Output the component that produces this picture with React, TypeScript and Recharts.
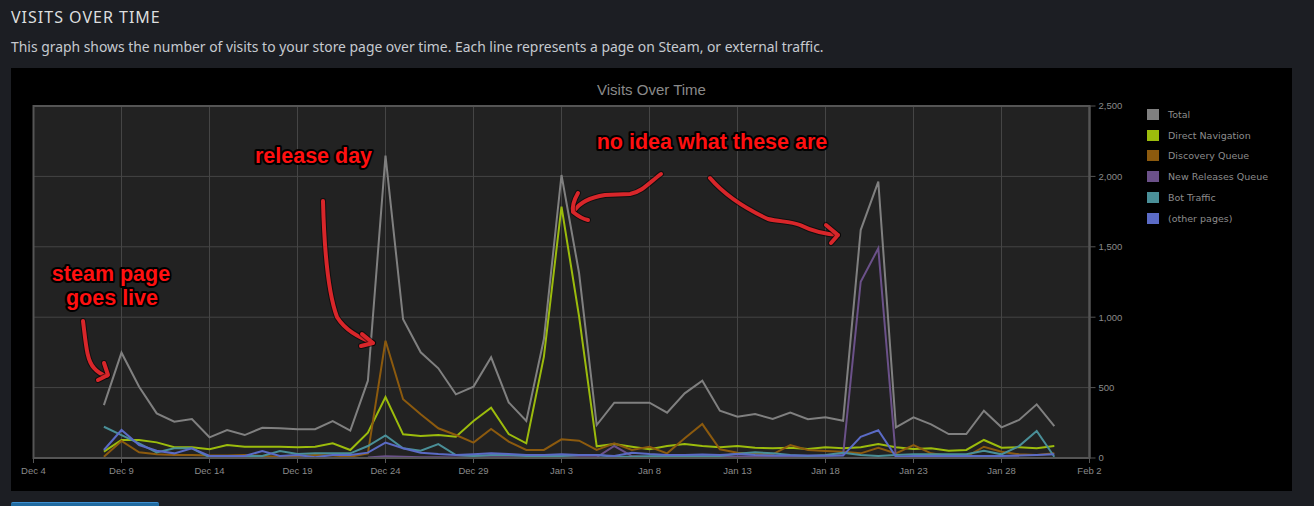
import React from 'react';
import { LineChart, Line, XAxis, YAxis, CartesianGrid, ReferenceArea } from 'recharts';

const dateLabels = [
  'Dec 8', 'Dec 9', 'Dec 10', 'Dec 11', 'Dec 12', 'Dec 13', 'Dec 14', 'Dec 15', 'Dec 16', 'Dec 17',
  'Dec 18', 'Dec 19', 'Dec 20', 'Dec 21', 'Dec 22', 'Dec 23', 'Dec 24', 'Dec 25', 'Dec 26', 'Dec 27',
  'Dec 28', 'Dec 29', 'Dec 30', 'Dec 31', 'Jan 1', 'Jan 2', 'Jan 3', 'Jan 4', 'Jan 5', 'Jan 6',
  'Jan 7', 'Jan 8', 'Jan 9', 'Jan 10', 'Jan 11', 'Jan 12', 'Jan 13', 'Jan 14', 'Jan 15', 'Jan 16',
  'Jan 17', 'Jan 18', 'Jan 19', 'Jan 20', 'Jan 21', 'Jan 22', 'Jan 23', 'Jan 24', 'Jan 25', 'Jan 26',
  'Jan 27', 'Jan 28', 'Jan 29', 'Jan 30', 'Jan 31',
];

const total = [
  376, 748, 506, 317, 258, 277, 147, 199, 163, 215,
  211, 204, 204, 262, 194, 549, 2147, 985, 751, 637,
  452, 507, 715, 395, 263, 845, 2010, 1312, 234, 393,
  393, 393, 322, 459, 549, 336, 293, 312, 277, 322,
  275, 289, 265, 1619, 1963, 218, 289, 239, 170, 170,
  336, 218, 270, 381, 227,
];

const directNavigation = [
  45, 128, 128, 111, 76, 76, 62, 92, 80, 80,
  80, 76, 80, 104, 57, 180, 433, 168, 156, 163,
  151, 263, 357, 170, 104, 720, 1785, 1004, 83, 99,
  80, 62, 85, 99, 85, 76, 85, 73, 69, 73,
  64, 76, 69, 76, 99, 76, 64, 69, 52, 57,
  128, 73, 76, 69, 85,
];

const discoveryQueue = [
  9, 121, 40, 26, 21, 21, 17, 17, 21, 14,
  9, 14, 21, 17, 9, 33, 833, 417, 310, 211,
  163, 109, 206, 116, 57, 57, 133, 123, 57, 104,
  57, 80, 33, 140, 241, 62, 38, 30, 26, 92,
  57, 50, 45, 33, 73, 33, 92, 33, 14, 9,
  80, 45, 26, 21, 33,
];

const newReleasesQueue = [
  null, null, null, null, null, null, null, null, null, null,
  null, null, null, null, null, 4, 12, 8, 6, 5,
  4, 5, 6, 5, 4, 4, 5, 6, 5, 85,
  14, 8, 6, 6, 8, 10, 8, 10, 12, 14,
  14, 16, 21, 1252, 1489, 2, 3, 3, 4, 3,
  3, 4, 5, null, null,
];

const botTraffic = [
  222, 163, 104, 40, 69, 69, 5, 14, 14, 14,
  50, 28, 33, 33, 33, 85, 160, 69, 52, 99,
  21, 14, 21, 21, 14, 14, 14, 21, 21, 9,
  9, 12, 14, 14, 12, 14, 30, 40, 33, 21,
  14, 21, 38, 21, 14, 21, 26, 26, 26, 26,
  52, 26, 85, 192, 9,
];

const otherPages = [
  57, 199, 92, 52, 33, 69, 14, 14, 14, 50,
  14, 21, 5, 21, 21, 38, 109, 69, 38, 28,
  21, 26, 33, 28, 21, 21, 26, 21, 21, 14,
  38, 28, 21, 21, 24, 21, 28, 21, 18, 18,
  18, 16, 17, 151, 197, 9, 14, 14, 14, 14,
  14, 14, 18, 22, 26,
];

const xTickLabels = ['Dec 4', 'Dec 9', 'Dec 14', 'Dec 19', 'Dec 24', 'Dec 29', 'Jan 3', 'Jan 8', 'Jan 13', 'Jan 18', 'Jan 23', 'Jan 28', 'Feb 2'];
const yTicks = [0, 500, 1000, 1500, 2000, 2500];

const series = [
  { key: 'total', name: 'Total', color: '#808080', values: total },
  { key: 'direct', name: 'Direct Navigation', color: '#9cbc0c', values: directNavigation },
  { key: 'discovery', name: 'Discovery Queue', color: '#8c5a0e', values: discoveryQueue },
  { key: 'newReleases', name: 'New Releases Queue', color: '#6b5189', values: newReleasesQueue },
  { key: 'bot', name: 'Bot Traffic', color: '#4a8f98', values: botTraffic },
  { key: 'other', name: '(other pages)', color: '#5b6bc6', values: otherPages },
];

// day offset from Dec 4
const dayOffset = (label: string) => {
  const [m, d] = label.split(' ');
  const day = parseInt(d, 10);
  if (m === 'Dec') return day - 4;
  if (m === 'Jan') return 27 + day;
  return 58 + day;
};

const xTicks = xTickLabels.map(dayOffset);
const labelByTick: Record<number, string> = {};
xTickLabels.forEach((l) => { labelByTick[dayOffset(l)] = l; });

const data = dateLabels.map((label, i) => {
  const row: Record<string, any> = { x: dayOffset(label), label };
  series.forEach((s) => { row[s.key] = s.values[i]; });
  return row;
});

const uiFont = '"Noto Sans", "Liberation Sans", Arial, sans-serif';
const chartFont = '"Liberation Sans", Arial, sans-serif';
const legendFont = '"DejaVu Sans", Verdana, sans-serif';

const redText = {
  fill: '#ff1010',
  stroke: '#000',
  strokeWidth: 4,
  paintOrder: 'stroke',
  fontFamily: '"Liberation Sans", Arial, sans-serif',
  fontWeight: 700,
  fontSize: 21.5,
  strokeLinejoin: 'round',
} as any;

const Arrow = ({ d }: { d: string }) => (
  <g fill="none" strokeLinecap="round" strokeLinejoin="round">
    <path d={d} stroke="rgba(0,0,0,0.55)" strokeWidth={6} />
    <path d={d} stroke="#d8262a" strokeWidth={4} />
  </g>
);

export default function App() {
  return (
    <div style={{ position: 'fixed', left: 0, top: 0, width: 1314, height: 506, background: '#1c1e23', overflow: 'hidden', fontFamily: uiFont }}>
      <div style={{ position: 'absolute', left: 11, top: 6, fontSize: 16, letterSpacing: 1, color: '#dcdedf', whiteSpace: 'nowrap', lineHeight: 'normal' }}>VISITS OVER TIME</div>
      <div style={{ position: 'absolute', left: 11, top: 37, fontSize: 13.9, color: '#c6cad0', whiteSpace: 'nowrap', lineHeight: 'normal' }}>
        This graph shows the number of visits to your store page over time. Each line represents a page on Steam, or external traffic.
      </div>

      <div style={{ position: 'absolute', left: 11, top: 68, width: 1281, height: 423, background: '#000' }}>
        <div style={{ position: 'absolute', left: 0, top: 13, width: '100%', textAlign: 'center', color: '#8a8a8a', fontSize: 15, fontFamily: chartFont, lineHeight: 'normal' }}>Visits Over Time</div>
        <LineChart width={1281} height={423} data={data} margin={{ top: 38, right: 142.5, bottom: 3, left: 22.5 }}>
          <CartesianGrid fill="#222222" stroke="#454545" strokeWidth={1} />
          <XAxis
            dataKey="x"
            type="number"
            domain={[0, 60]}
            ticks={xTicks}
            interval={0}
            tickFormatter={(v: number) => labelByTick[v] || ''}
            height={30}
            stroke="#555"
            axisLine={{ stroke: '#555', strokeWidth: 2 }}
            tickLine={{ stroke: '#555' }}
            tickSize={5}
            tickMargin={4}
            tick={{ fill: '#8a8a8a', fontSize: 9.5, fontFamily: chartFont }}
          />
          <YAxis
            orientation="right"
            domain={[0, 2500]}
            ticks={yTicks}
            interval={0}
            width={60}
            tickFormatter={(v: number) => v.toLocaleString('en-US')}
            axisLine={{ stroke: '#555', strokeWidth: 2 }}
            tickLine={{ stroke: '#555' }}
            tickSize={6}
            tickMargin={3}
            tick={{ fill: '#8a8a8a', fontSize: 9.5, fontFamily: chartFont }}
          />
          <ReferenceArea x1={0} x2={60} y1={0} y2={2500} fill="none" fillOpacity={0} stroke="#555" strokeWidth={2} ifOverflow="visible" />
          {series.map((s) => (
            <Line
              key={s.key}
              dataKey={s.key}
              name={s.name}
              type="linear"
              stroke={s.color}
              strokeWidth={2}
              dot={false}
              activeDot={false}
              connectNulls={false}
              isAnimationActive={false}
            />
          ))}
        </LineChart>
        <div style={{ position: 'absolute', left: 1136, top: 36, fontFamily: legendFont, fontSize: 9.5, color: '#8c8c8c' }}>
          {series.map((s) => (
            <div key={s.key} style={{ display: 'flex', alignItems: 'center', height: 20.8 }}>
              <div style={{ width: 12, height: 11, background: s.color, marginRight: 9 }} />
              <span style={{ whiteSpace: 'nowrap' }}>{s.name}</span>
            </div>
          ))}
        </div>
      </div>

      <div style={{ position: 'absolute', left: 11, top: 502, width: 148, height: 10, background: '#1f6aa0', borderTop: '1px solid #3d8fd0', borderRadius: 2 }} />

      <svg width={1314} height={506} style={{ position: 'absolute', left: 0, top: 0, pointerEvents: 'none' }}>
        <Arrow d="M83,321 C86,345 87,361 94,368 Q99,374 107,376" />
        <Arrow d="M104,363 L108,375 L98,380" />
        <Arrow d="M323,201 C324,240 327,290 337,317 C345,330 358,337 373,343" />
        <Arrow d="M362,334 L373,343 L361,346" />
        <Arrow d="M661,174 C650,182 642,192 630,194 L605,195 C592,197 580,202 574,211" />
        <Arrow d="M578,193 C574,200 572,206 573,212 C578,216 583,219 588,220" />
        <Arrow d="M710,178 C722,192 740,206 768,219 C780,222 790,221 800,225 C812,231 825,234 838,235" />
        <Arrow d="M826,225 L838,235 L831,243" />
        <text x={111} y={281} textAnchor="middle" style={redText}>steam page</text>
        <text x={112} y={305} textAnchor="middle" style={redText}>goes live</text>
        <text x={313.5} y={163} textAnchor="middle" style={redText}>release day</text>
        <text x={712} y={149} textAnchor="middle" style={redText}>no idea what these are</text>
      </svg>
    </div>
  );
}
